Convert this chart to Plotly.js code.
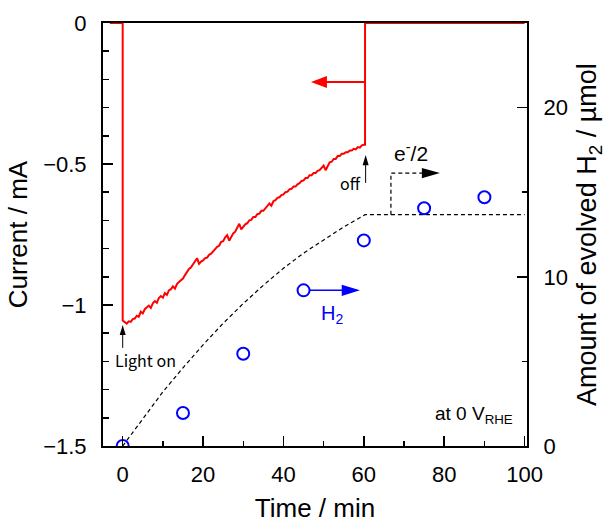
<!DOCTYPE html>
<html>
<head>
<meta charset="utf-8">
<script src="https://cdn.plot.ly/plotly-3.0.1.min.js"></script>
<style>html,body{margin:0;padding:0;background:#fff;}#chart{width:605px;height:524px;}</style>
</head>
<body>
<div id="chart"></div>
<script>
// Photocurrent (left axis, mA) vs time (min)
const curT = [-3.2, 0, 0,
  0.5, 1, 1.5, 2, 2.5, 3, 3.5, 4, 4.5, 5, 5.5, 6, 6.5, 7, 7.5, 8, 8.5, 9, 9.5, 10,
  10.5, 11, 11.5, 12, 12.5, 13, 13.5, 14, 14.5, 15, 15.5, 16, 16.5, 17, 17.5, 18, 18.5, 19, 19.5, 20,
  20.5, 21, 21.5, 22, 22.5, 23, 23.5, 24, 24.5, 25, 25.5, 26, 26.5, 27, 27.5, 28, 28.5, 29, 29.5, 30,
  30.5, 31, 31.5, 32, 32.5, 33, 33.5, 34, 34.5, 35, 35.5, 36, 36.5, 37, 37.5, 38, 38.5, 39, 39.5, 40,
  40.5, 41, 41.5, 42, 42.5, 43, 43.5, 44, 44.5, 45, 45.5, 46, 46.5, 47, 47.5, 48, 48.5, 49, 49.5, 50,
  50.5, 51, 51.5, 52, 52.5, 53, 53.5, 54, 54.5, 55, 55.5, 56, 56.5, 57, 57.5, 58, 58.5, 59, 59.5, 60,
  60.3, 60.3, 100];
const curI = [0, 0, -1.055,
  -1.062, -1.066, -1.058, -1.060, -1.050, -1.048, -1.038, -1.042, -1.024, -1.030, -1.015, -1.010, -1.002, -1.010, -0.994, -0.986, -0.992, -0.975, -0.968, -0.974,
  -0.958, -0.964, -0.948, -0.944, -0.934, -0.942, -0.926, -0.918, -0.912, -0.906, -0.894, -0.882, -0.872, -0.866, -0.854, -0.846, -0.834, -0.854, -0.846, -0.842,
  -0.834, -0.832, -0.822, -0.818, -0.808, -0.802, -0.794, -0.790, -0.776, -0.774, -0.760, -0.752, -0.772, -0.758, -0.746, -0.740, -0.724, -0.712, -0.732, -0.722,
  -0.714, -0.710, -0.700, -0.698, -0.688, -0.688, -0.678, -0.676, -0.666, -0.666, -0.658, -0.650, -0.640, -0.648, -0.632, -0.628, -0.620, -0.618, -0.610, -0.608,
  -0.600, -0.598, -0.590, -0.588, -0.580, -0.580, -0.572, -0.568, -0.560, -0.558, -0.550, -0.550, -0.540, -0.540, -0.532, -0.532, -0.524, -0.522, -0.512, -0.506,
  -0.522, -0.506, -0.494, -0.492, -0.482, -0.482, -0.472, -0.472, -0.464, -0.464, -0.458, -0.458, -0.452, -0.452, -0.446, -0.448, -0.440, -0.442, -0.434, -0.432,
  -0.432, 0, 0];

// Evolved H2 (right axis, umol)
const h2T = [0, 15, 30, 45, 60, 75, 90];
const h2V = [0, 1.95, 5.45, 9.2, 12.15, 14.05, 14.7];

// Expected from charge, e-/2 (right axis, umol)
const eT = [0, 5, 10, 15, 20, 25, 30, 35, 40, 45, 50, 55, 60.3, 100];
const eV = [0, 1.63, 3.2, 4.62, 5.98, 7.25, 8.42, 9.5, 10.5, 11.4, 12.2, 12.95, 13.67, 13.67];

const xTicks = [0, 20, 40, 60, 80, 100];
const yTicks = [-1.5, -1, -0.5, 0];
const y2Ticks = [0, 10, 20];

const FONT = 'Liberation Sans, Arial, sans-serif';
const JP = 'Noto Sans CJK JP, sans-serif';

const traces = [
  {x: curT, y: curI, type: 'scatter', mode: 'lines', yaxis: 'y',
   line: {color: '#ff0000', width: 2}, hoverinfo: 'none'},
  {x: eT, y: eV, type: 'scatter', mode: 'lines', yaxis: 'y2',
   line: {color: '#000', width: 1.2, dash: '4px,3px'}, hoverinfo: 'none'},
  {x: h2T, y: h2V, type: 'scatter', mode: 'markers', yaxis: 'y2',
   marker: {symbol: 'circle-open', size: 12, color: '#0000ff', line: {width: 2, color: '#0000ff'}}, hoverinfo: 'none'}
];

function tri(xTip, yTip, xBase, halfH) {
  return `M${xTip},${yTip} L${xBase},${yTip + halfH} L${xBase},${yTip - halfH} Z`;
}

const shapes = [
  // red arrow (points to left axis)
  {type: 'line', xref: 'x', yref: 'y', x0: 60.2, x1: 50.5, y0: -0.2092, y1: -0.2092, line: {color: '#ff0000', width: 2}},
  {type: 'path', xref: 'x', yref: 'y', path: tri(46.84, -0.2092, 50.82, 0.0213), fillcolor: '#ff0000', line: {width: 0}},
  // blue arrow (points to right axis)
  {type: 'line', xref: 'x', yref: 'y2', x0: 46.6, x1: 54.8, y0: 9.2, y1: 9.2, line: {color: '#0000ff', width: 1.5}},
  {type: 'path', xref: 'x', yref: 'y2', path: tri(59.03, 9.2, 54.5, 0.33), fillcolor: '#0000ff', line: {width: 0}},
  // dashed e-/2 arrow
  {type: 'path', xref: 'x', yref: 'y2', path: 'M66.74,13.67 L66.74,16.13 L74.8,16.13', line: {color: '#000', width: 1.2, dash: '4px,3px'}},
  {type: 'path', xref: 'x', yref: 'y2', path: tri(78.93, 16.13, 74.45, 0.3), fillcolor: '#000', line: {width: 0}},
  // Light on arrow
  {type: 'line', xref: 'x', yref: 'y', x0: 0, x1: 0, y0: -1.152, y1: -1.1, line: {color: '#000', width: 1}},
  {type: 'path', xref: 'x', yref: 'y', path: 'M0,-1.071 L0.75,-1.106 L-0.75,-1.106 Z', fillcolor: '#000', line: {width: 0}},
  // off arrow
  {type: 'line', xref: 'x', yref: 'y', x0: 60.45, x1: 60.45, y0: -0.567, y1: -0.5, line: {color: '#000', width: 1}},
  {type: 'path', xref: 'x', yref: 'y', path: 'M60.45,-0.468 L61.2,-0.504 L59.7,-0.504 Z', fillcolor: '#000', line: {width: 0}}
];

const annotations = [
  {text: 'Light on', xref: 'x', yref: 'y', x: 5.7, y: -1.195, showarrow: false, font: {family: JP, size: 16, color: '#000'}},
  {text: 'off', xref: 'x', yref: 'y', x: 56.6, y: -0.566, showarrow: false, font: {family: JP, size: 16, color: '#000'}},
  {text: 'e<sup>-</sup>/2', xref: 'x', yref: 'y', x: 71.7, y: -0.457, showarrow: false, font: {family: FONT, size: 21, color: '#000'}},
  {text: 'H<sub>2</sub>', xref: 'x', yref: 'y2', x: 52.2, y: 7.8, showarrow: false, font: {family: FONT, size: 20, color: '#0000ff'}},
  {text: 'at 0 V<sub>RHE</sub>', xref: 'x', yref: 'y', x: 97.6, y: -1.39, xanchor: 'right', showarrow: false, font: {family: FONT, size: 19, color: '#000'}},
  {text: 'Amount of evolved H<sub>2</sub> / µmol', xref: 'paper', yref: 'paper', x: 1.145, y: 0.5, textangle: -90,
   xanchor: 'center', yanchor: 'middle', showarrow: false, font: {family: FONT, size: 27, color: '#000'}}
];

const layout = {
  width: 605, height: 524,
  margin: {l: 103, r: 78, t: 23, b: 78, pad: 0},
  paper_bgcolor: '#fff', plot_bgcolor: '#fff',
  showlegend: false,
  font: {family: FONT, size: 22, color: '#000'},
  xaxis: {
    range: [-4.9, 100.6], tickvals: xTicks, ticks: 'inside', ticklen: 10, tickwidth: 1.5, tickcolor: '#000',
    minor: {dtick: 10, tick0: 0, ticks: 'inside', ticklen: 5, tickwidth: 1.5, tickcolor: '#000'},
    showline: true, linewidth: 2, linecolor: '#000', mirror: true,
    showgrid: false, zeroline: false, ticklabelstandoff: 8,
    title: {text: 'Time / min', font: {family: FONT, size: 26}, standoff: 12}
  },
  yaxis: {
    range: [-1.5, 0], tickvals: yTicks, ticks: 'inside', ticklen: 10, tickwidth: 1.5, tickcolor: '#000',
    minor: {dtick: 0.1, tick0: 0, ticks: 'inside', ticklen: 6, tickwidth: 1.5, tickcolor: '#000'},
    showline: true, linewidth: 2, linecolor: '#000', mirror: false,
    showgrid: false, zeroline: false, ticklabelstandoff: 10,
    title: {text: 'Current / mA', font: {family: FONT, size: 26}, standoff: 8}
  },
  yaxis2: {
    overlaying: 'y', side: 'right', anchor: 'x',
    range: [0, 25], tickvals: y2Ticks, ticks: 'inside', ticklen: 10, tickwidth: 1.5, tickcolor: '#000',
    minor: {dtick: 5, tick0: 0, ticks: 'inside', ticklen: 5, tickwidth: 1.5, tickcolor: '#000'},
    showline: true, linewidth: 2, linecolor: '#000',
    showgrid: false, zeroline: false, ticklabelstandoff: 10
  },
  shapes: shapes,
  annotations: annotations
};

Plotly.newPlot('chart', traces, layout, {staticPlot: true, displayModeBar: false});
</script>
</body>
</html>
